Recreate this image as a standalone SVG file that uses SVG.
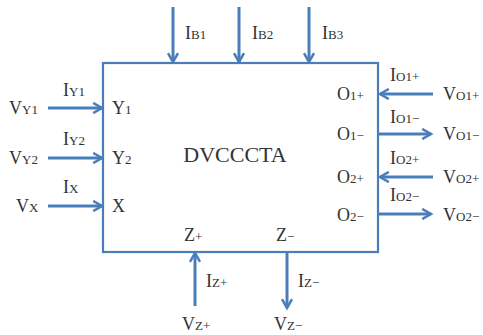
<svg xmlns="http://www.w3.org/2000/svg" width="483" height="335" viewBox="0 0 483 335">
<defs>
<marker id="ah" viewBox="0 0 10 10" refX="8" refY="5" markerWidth="4.2" markerHeight="4.2" orient="auto" markerUnits="strokeWidth">
<path d="M1,1 L8,5 L1,9" fill="none" stroke="#4a7ebb" stroke-width="2"/>
</marker>
</defs>
<style>
.box{fill:#fff;stroke:#4a7ebb;stroke-width:2.2}
.w{stroke:#4a7ebb;stroke-width:3;fill:none;marker-end:url(#ah)}
text{font-family:"Liberation Serif","Times New Roman",serif;font-size:18px;fill:#333}
.s{font-size:13px}
.t{font-size:22px}
</style>
<g id="block">
<rect class="box" x="103" y="63" width="275" height="189"/>
<text class="t" x="235" y="162" text-anchor="middle">DVCCCTA</text>
<text x="112" y="114">Y<tspan class="s">1</tspan></text>
<text x="112" y="164">Y<tspan class="s">2</tspan></text>
<text x="112" y="212">X</text>
<text x="337" y="100">O<tspan class="s">1+</tspan></text>
<text x="337" y="140">O<tspan class="s">1−</tspan></text>
<text x="337" y="183">O<tspan class="s">2+</tspan></text>
<text x="337" y="221">O<tspan class="s">2−</tspan></text>
<text x="184" y="241">Z<tspan class="s">+</tspan></text>
<text x="276" y="241">Z<tspan class="s">−</tspan></text>
</g>
<g id="connectors">
<line class="w" x1="173" y1="7" x2="173" y2="62"/>
<line class="w" x1="239" y1="7" x2="239" y2="62"/>
<line class="w" x1="309" y1="7" x2="309" y2="62"/>
<line class="w" x1="48" y1="108" x2="102" y2="108"/>
<line class="w" x1="48" y1="158" x2="102" y2="158"/>
<line class="w" x1="48" y1="206" x2="102" y2="206"/>
<line class="w" x1="433" y1="94" x2="380" y2="94"/>
<line class="w" x1="379" y1="134" x2="431" y2="134"/>
<line class="w" x1="433" y1="177" x2="380" y2="177"/>
<line class="w" x1="379" y1="214" x2="431" y2="214"/>
<line class="w" x1="195" y1="306" x2="195" y2="253"/>
<line class="w" x1="287" y1="253" x2="287" y2="308"/>
</g>
<g id="labels">
<text x="185" y="39">I<tspan class="s">B1</tspan></text>
<text x="252" y="39">I<tspan class="s">B2</tspan></text>
<text x="322" y="39">I<tspan class="s">B3</tspan></text>
<text x="9" y="114">V<tspan class="s">Y1</tspan></text>
<text x="63" y="96">I<tspan class="s">Y1</tspan></text>
<text x="9" y="164">V<tspan class="s">Y2</tspan></text>
<text x="63" y="145">I<tspan class="s">Y2</tspan></text>
<text x="16" y="212">V<tspan class="s">X</tspan></text>
<text x="63" y="193">I<tspan class="s">X</tspan></text>
<text x="390" y="81">I<tspan class="s">O1+</tspan></text>
<text x="443" y="100">V<tspan class="s">O1+</tspan></text>
<text x="390" y="123">I<tspan class="s">O1−</tspan></text>
<text x="443" y="140">V<tspan class="s">O1−</tspan></text>
<text x="390" y="164">I<tspan class="s">O2+</tspan></text>
<text x="443" y="183">V<tspan class="s">O2+</tspan></text>
<text x="390" y="201">I<tspan class="s">O2−</tspan></text>
<text x="443" y="221">V<tspan class="s">O2−</tspan></text>
<text x="206" y="287">I<tspan class="s">Z+</tspan></text>
<text x="298" y="287">I<tspan class="s">Z−</tspan></text>
<text x="182" y="330">V<tspan class="s">Z+</tspan></text>
<text x="274" y="330">V<tspan class="s">Z−</tspan></text>
</g>
</svg>
